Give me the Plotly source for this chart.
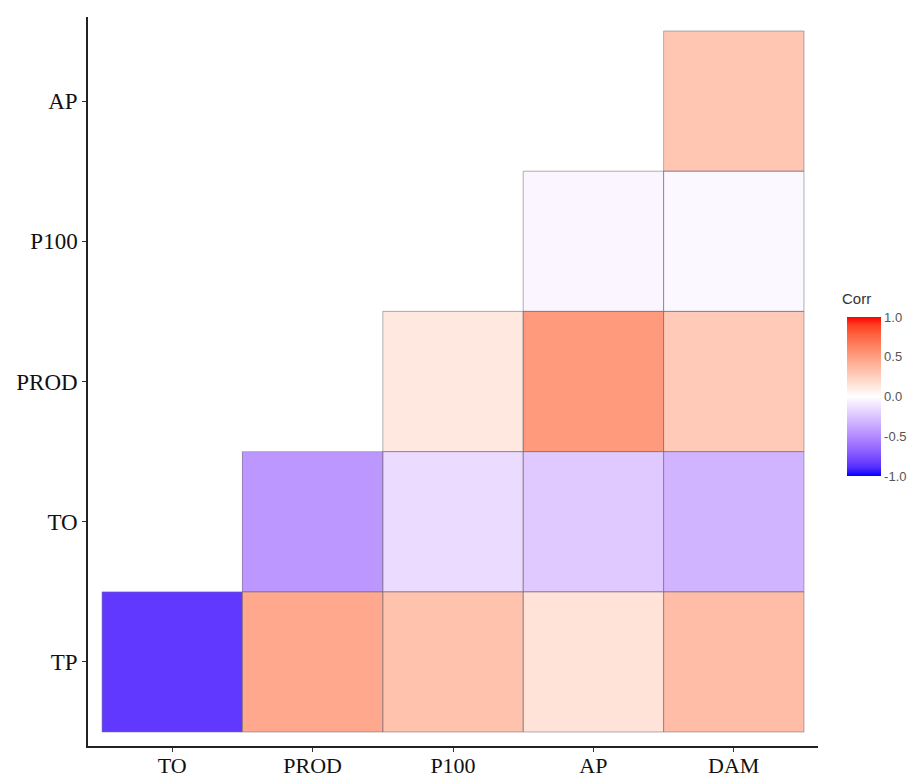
import numpy as np
import plotly.graph_objects as go

x_labels = ["TO", "PROD", "P100", "AP", "DAM"]
y_labels = ["TP", "TO", "PROD", "P100", "AP"]
nan = None
row_TP = [-0.85, 0.45, 0.32, 0.15, 0.35]
row_TO = [nan, -0.45, -0.15, -0.23, -0.32]
row_PROD = [nan, nan, 0.12, 0.52, 0.28]
row_P100 = [nan, nan, nan, -0.04, -0.03]
row_AP = [nan, nan, nan, nan, 0.30]
z = [row_TP, row_TO, row_PROD, row_P100, row_AP]
cbar_ticks = [-1.0, -0.5, 0.0, 0.5, 1.0]
cbar_text = ["-1.0", "-0.5", "0.0", "0.5", "1.0"]

# Lab-space gradient blue -> white -> red (as in ggplot2 scale_fill_gradient2)
def srgb_to_lin(c):
    c = c / 255.0
    return np.where(c <= 0.04045, c / 12.92, ((c + 0.055) / 1.055) ** 2.4)

def lin_to_srgb(c):
    c = np.clip(c, 0, 1)
    v = np.where(c <= 0.0031308, 12.92 * c, 1.055 * c ** (1 / 2.4) - 0.055)
    return np.clip(np.round(v * 255), 0, 255)

M = np.array([[0.4124, 0.3576, 0.1805], [0.2126, 0.7152, 0.0722], [0.0193, 0.1192, 0.9505]])
Minv = np.linalg.inv(M)
WP = np.array([0.95047, 1.0, 1.08883])

def f(t):
    d = 6 / 29
    return np.where(t > d ** 3, np.cbrt(t), t / (3 * d * d) + 4 / 29)

def finv(t):
    d = 6 / 29
    return np.where(t > d, t ** 3, 3 * d * d * (t - 4 / 29))

def rgb_to_lab(rgb):
    xyz = M @ srgb_to_lin(np.array(rgb, float)) / WP
    fx, fy, fz = f(xyz)
    return np.array([116 * fy - 16, 500 * (fx - fy), 200 * (fy - fz)])

def lab_to_rgb(lab):
    L, a, b = lab
    fy = (L + 16) / 116
    fx = fy + a / 500
    fz = fy - b / 200
    xyz = np.array([finv(fx), finv(fy), finv(fz)]) * WP
    return lin_to_srgb(Minv @ xyz)

lab_b, lab_w, lab_r = rgb_to_lab([0, 0, 255]), rgb_to_lab([255, 255, 255]), rgb_to_lab([255, 0, 0])
colorscale = []
n = 20
for i in range(n + 1):
    t = i / n
    if t <= 0.5:
        s = t / 0.5
        lab = lab_b * (1 - s) + lab_w * s
    else:
        s = (t - 0.5) / 0.5
        lab = lab_w * (1 - s) + lab_r * s
    r, g, b = lab_to_rgb(lab)
    colorscale.append([t, f"rgb({int(r)},{int(g)},{int(b)})"])

fig = go.Figure()
fig.add_trace(go.Heatmap(
    x=x_labels, y=y_labels, z=z, zmin=-1, zmax=1, colorscale=colorscale,
    hoverongaps=False,
    colorbar=dict(
        tickvals=cbar_ticks, ticktext=cbar_text, ticks="",
        tickfont=dict(family="Liberation Sans, Arial", size=13, color="#555"),
        lenmode="pixels", len=159, thickness=34, thicknessmode="pixels",
        x=1.0397, xanchor="left", xpad=0, y=0.4794, yanchor="middle", ypad=0,
        outlinewidth=0,
    ),
))

shapes = []
for j, row in enumerate(z):
    for i, v in enumerate(row):
        if v is not None:
            shapes.append(dict(type="rect", xref="x", yref="y",
                               x0=i - 0.5, x1=i + 0.5, y0=j - 0.5, y1=j + 0.5,
                               line=dict(color="rgba(120,110,120,0.55)", width=1)))

fig.add_annotation(text="Corr", xref="paper", yref="paper", x=1.030, y=0.6145,
                   xanchor="left", yanchor="middle", showarrow=False,
                   font=dict(family="Liberation Sans, Arial", size=15, color="#333"))

fig.update_layout(
    width=919, height=775,
    margin=dict(l=80, r=109, t=9, b=37, autoexpand=False),
    plot_bgcolor="white", paper_bgcolor="white",
    shapes=shapes,
    xaxis=dict(range=[-0.6, 4.6], showgrid=False, zeroline=False,
               showline=True, linecolor="#222", linewidth=1.5,
               ticks="outside", ticklen=4, tickcolor="#333", ticklabelstandoff=-5,
               tickfont=dict(family="Liberation Serif, Times New Roman", size=22, color="#111")),
    yaxis=dict(range=[-0.6, 4.6], showgrid=False, zeroline=False,
               showline=True, linecolor="#222", linewidth=1.5,
               ticks="outside", ticklen=4, tickcolor="#333",
               tickfont=dict(family="Liberation Serif, Times New Roman", size=23, color="#111")),
)

fig.write_html("out.html")
